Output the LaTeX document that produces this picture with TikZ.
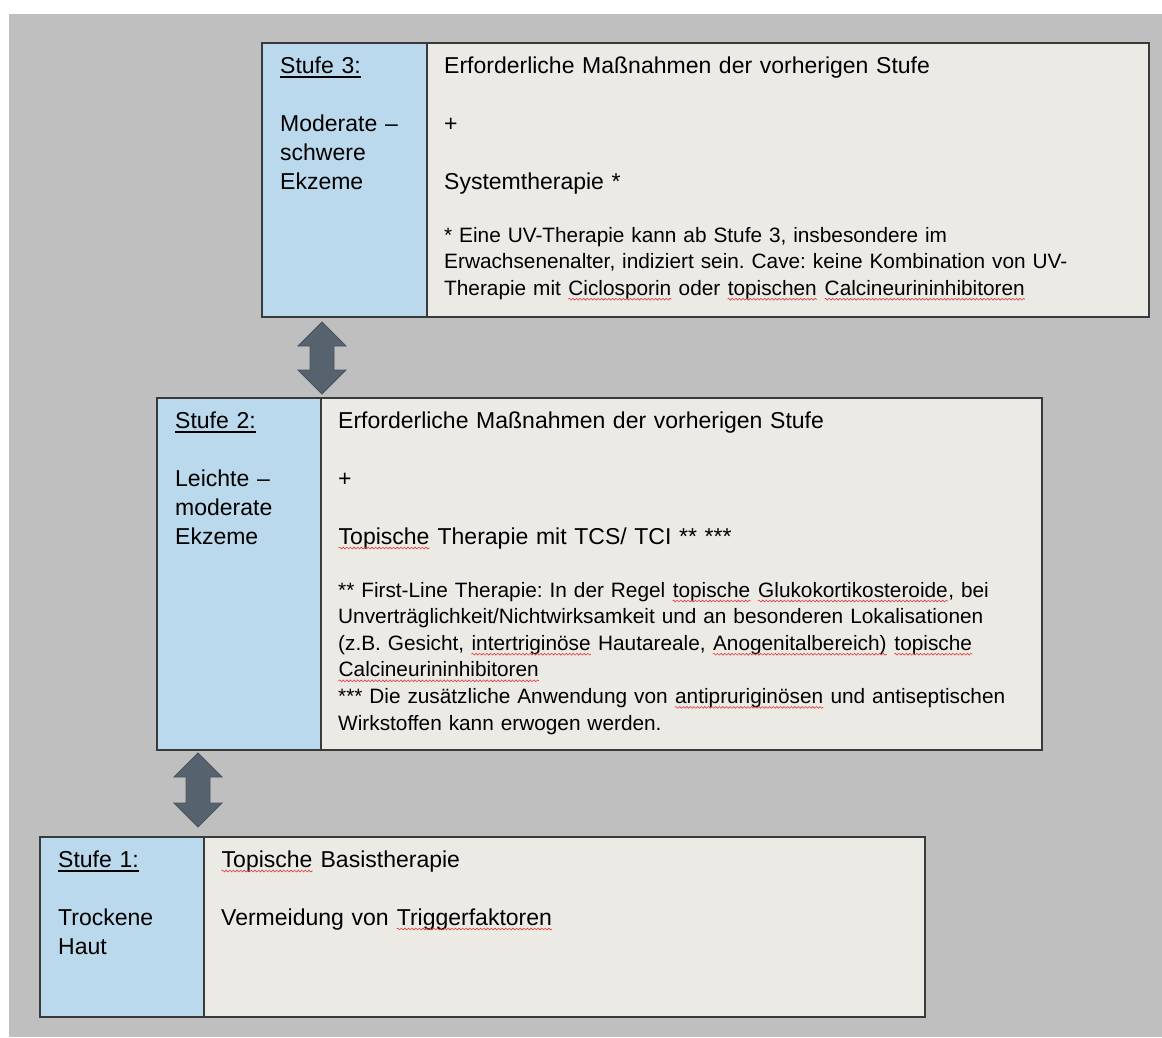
\documentclass[tikz,border=0pt]{standalone}
\usepackage{fontspec}
\setmainfont{Liberation Sans}
\usetikzlibrary{calc,decorations.pathmorphing}

\definecolor{bggray}{HTML}{BFBFBF}
\definecolor{stageblue}{HTML}{BAD9EC}
\definecolor{stagegray}{HTML}{ECEAE5}
\definecolor{arrowslate}{HTML}{56636E}
\definecolor{arrowedge}{HTML}{48535D}
\definecolor{boxline}{HTML}{3A3A3A}
\definecolor{wavered}{HTML}{E03C3C}

% underlined level title
\newcommand\stagehead[1]{\setbox0\hbox{#1}\rlap{\rule[-4.5pt]{\wd0}{1.3pt}}\box0}
% red wavy mark as in the spell checker
\newcommand\spellerr[1]{\tikz[baseline=(w.base)]{%
  \node[inner sep=0pt, text width={}] (w) {#1};
  \draw[wavered, line width=0.6pt, decorate,
    decoration={snake, amplitude=0.9pt, segment length=3.6pt}]
    ([yshift=-4pt]w.base west) -- ([yshift=-4pt]w.base east);}}

\tikzset{
  levelbox/.style={draw=boxline, line width=1.3pt, anchor=north west, inner sep=0pt, outer sep=0pt},
  labelcell/.style={levelbox, fill=stageblue, minimum width=164pt},
  maincell/.style={levelbox, fill=stagegray, minimum width=721pt},
  bodytext/.style={anchor=base west, inner sep=0pt, align=left, text width=690pt,
    font=\fontsize{23}{29}\selectfont\frenchspacing},
  notetext/.style={anchor=base west, inner sep=0pt, align=left, text width=710pt,
    font=\fontsize{20.8}{26.6}\selectfont\frenchspacing},
  updown/.style={fill=arrowslate, draw=arrowedge, line width=0.8pt, line join=miter},
}

\begin{document}
\begin{tikzpicture}[x=1pt,y=-1pt]
\useasboundingbox (0,0) rectangle (1162,1037);
\fill[white] (0,0) rectangle (1162,1037);
\fill[bggray] (9,14) rectangle (1162,1037);

% Stufe 3
\node[labelcell, minimum width=165pt, minimum height=274pt] (s3l) at (262,43) {};
\node[maincell, minimum width=722pt, minimum height=274pt] (s3r) at (s3l.north east) {};
\node[bodytext, text width=150pt] (s3a) at ($(s3l.north west)+(18,30)$)
  {\stagehead{Stufe 3:}\\[29pt] Moderate –\\ schwere\\ Ekzeme};
\node[bodytext] (s3b) at ($(s3r.north west)+(17,30)$)
  {Erforderliche Maßnahmen der vorherigen Stufe\\[29pt] +\\[29pt] Systemtherapie *};
\node[notetext] (s3c) at ($(s3r.north west)+(17,199)$)
  {* Eine UV-Therapie kann ab Stufe 3, insbesondere im\\
   Erwachsenenalter, indiziert sein. Cave: keine Kombination von UV-\\
   Therapie mit \spellerr{Ciclosporin} oder \spellerr{topischen} \spellerr{Calcineurininhibitoren}};

% Stufe 2
\node[labelcell, minimum height=352pt] (s2l) at (157,398) {};
\node[maincell, minimum height=352pt] (s2r) at (s2l.north east) {};
\node[bodytext, text width=150pt] (s2a) at ($(s2l.north west)+(18,30)$)
  {\stagehead{Stufe 2:}\\[29pt] Leichte –\\ moderate\\ Ekzeme};
\node[bodytext] (s2b) at ($(s2r.north west)+(17,30)$)
  {Erforderliche Maßnahmen der vorherigen Stufe\\[29pt] +\\[29pt]
   \spellerr{Topische} Therapie mit TCS/ TCI ** ***};
\node[notetext] (s2c) at ($(s2r.north west)+(17,199)$)
  {** First-Line Therapie: In der Regel \spellerr{topische} \spellerr{Glukokortikosteroide}, bei\\
   Unverträglichkeit/Nichtwirksamkeit und an besonderen Lokalisationen\\
   (z.B. Gesicht, \spellerr{intertriginöse} Hautareale, \spellerr{Anogenitalbereich)} \spellerr{topische}\\
   \spellerr{Calcineurininhibitoren}\\
   \relax*** Die zusätzliche Anwendung von \spellerr{antipruriginösen} und antiseptischen\\
   Wirkstoffen kann erwogen werden.};

% Stufe 1
\node[labelcell, minimum height=180pt] (s1l) at (40,837) {};
\node[maincell, minimum height=180pt] (s1r) at (s1l.north east) {};
\node[bodytext, text width=150pt] (s1a) at ($(s1l.north west)+(18,30)$)
  {\stagehead{Stufe 1:}\\[29pt] Trockene\\ Haut};
\node[bodytext] (s1b) at ($(s1r.north west)+(17,30)$)
  {\spellerr{Topische} Basistherapie\\[29pt] Vermeidung von \spellerr{Triggerfaktoren}};

% double arrows between the levels
\foreach \cx/\tip/\tail in {322/322/394, 198/753/827}
  \draw[updown] (\cx,\tip) -- ++(24,24) -- ++(-12,0) -- (\cx+12,\tail-24)
    -- ++(12,0) -- (\cx,\tail) -- ++(-24,-24) -- ++(12,0)
    -- (\cx-12,\tip+24) -- ++(-12,0) -- cycle;
\end{tikzpicture}
\end{document}
